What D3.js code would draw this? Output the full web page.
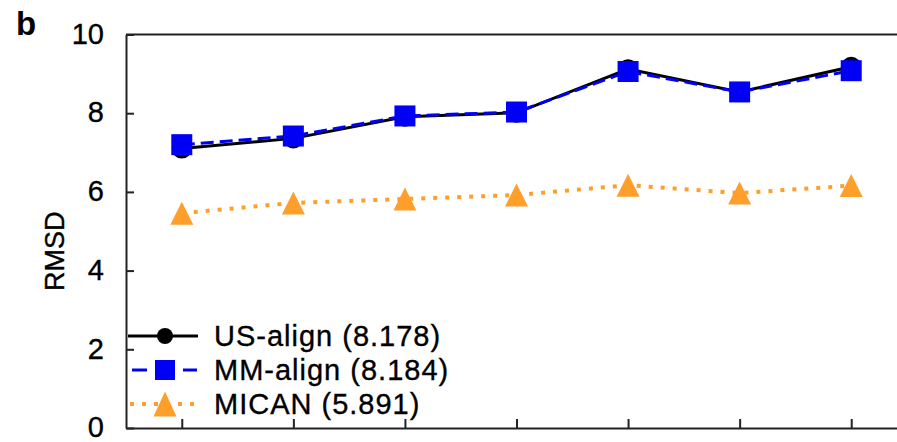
<!DOCTYPE html>
<html>
<head>
<meta charset="utf-8">
<script src="https://cdn.jsdelivr.net/npm/d3@7"></script>
<style>
  html, body { margin: 0; padding: 0; background: #fff; }
  svg { display: block; }
</style>
</head>
<body>
<svg id="chart" width="897" height="442"></svg>
<script>
// ---- data ----
const categories = ["1", "2", "3", "4", "5", "6", "7"];
const usAlign   = [7.10, 7.36, 7.91, 8.01, 9.12, 8.54, 9.18];
const mmAlign   = [7.20, 7.42, 7.93, 8.03, 9.06, 8.54, 9.08];
const mican     = [5.46, 5.72, 5.82, 5.92, 6.17, 5.97, 6.16];
const seriesNames = ["US-align (8.178)", "MM-align (8.184)", "MICAN (5.891)"];
const yTicks = [0, 2, 4, 6, 8, 10];
const panelLabel = "b";
const yLabel = "RMSD";

(function () {
// ---- layout ----
const pLeft = 126, pRight = 907, pTop = 34.5, pBottom = 428;
const font = "'Liberation Sans', Arial, Helvetica, sans-serif";

const svg = d3.select("#chart");

const x = d3.scalePoint().domain(categories).range([pLeft, pRight]).padding(0.5);
const y = d3.scaleLinear().domain([0, 10]).range([pBottom, pTop]);

// frame top line
svg.append("line")
  .attr("x1", pLeft).attr("x2", pRight)
  .attr("y1", pTop).attr("y2", pTop)
  .attr("stroke", "#222").attr("stroke-width", 2);

// y axis
const yAxis = svg.append("g")
  .attr("transform", `translate(${pLeft},0)`)
  .call(d3.axisLeft(y).tickValues(yTicks).tickSizeInner(-8).tickSizeOuter(0).tickPadding(22));
yAxis.select(".domain").attr("stroke", "#222").attr("stroke-width", 2);
yAxis.selectAll(".tick line").attr("stroke", "#222").attr("stroke-width", 2);
yAxis.selectAll(".tick text")
  .attr("font-family", font).attr("font-size", 29).attr("fill", "#000")
  .attr("stroke", "#000").attr("stroke-width", 0.35)
  .attr("dy", "0.3em");

// x axis
const xAxis = svg.append("g")
  .attr("transform", `translate(0,${pBottom})`)
  .call(d3.axisBottom(x).tickSizeInner(-9).tickSizeOuter(0).tickFormat(""));
xAxis.select(".domain").attr("stroke", "#222").attr("stroke-width", 2);
xAxis.selectAll(".tick line").attr("stroke", "#222").attr("stroke-width", 2);

// panel label
svg.append("text")
  .attr("x", 16).attr("y", 35)
  .attr("font-family", font).attr("font-weight", "bold").attr("font-size", 33)
  .attr("fill", "#000")
  .text(panelLabel);

// y label
svg.append("text")
  .attr("transform", `translate(64,${(pTop + pBottom) / 2 + 20}) rotate(-90)`)
  .attr("text-anchor", "middle")
  .attr("font-family", font).attr("font-size", 27).attr("fill", "#000")
  .attr("stroke", "#000").attr("stroke-width", 0.35)
  .text(yLabel);

const line = d3.line().x((d, i) => x(categories[i])).y(d => y(d));

const orange = "#fe9f2c";
const blue = "#0000f5";

// US-align
svg.append("path").datum(usAlign)
  .attr("d", line).attr("fill", "none")
  .attr("stroke", "#000").attr("stroke-width", 3);
svg.selectAll(".us").data(usAlign).enter().append("circle")
  .attr("cx", (d, i) => x(categories[i])).attr("cy", d => y(d))
  .attr("r", 10).attr("fill", "#000");

// MM-align
svg.append("path").datum(mmAlign)
  .attr("d", line).attr("fill", "none")
  .attr("stroke", blue).attr("stroke-width", 3)
  .attr("stroke-dasharray", "13,6");
const sq = 21;
svg.selectAll(".mm").data(mmAlign).enter().append("rect")
  .attr("x", (d, i) => x(categories[i]) - sq / 2).attr("y", d => y(d) - sq / 2)
  .attr("width", sq).attr("height", sq).attr("fill", blue);

// MICAN
svg.append("path").datum(mican)
  .attr("d", line).attr("fill", "none")
  .attr("stroke", orange).attr("stroke-width", 4)
  .attr("stroke-dasharray", "4,8");
function tri(cx, cy, w, h) {
  return `M${cx},${cy - h / 2}L${cx + w / 2},${cy + h / 2}L${cx - w / 2},${cy + h / 2}Z`;
}
svg.selectAll(".mi").data(mican).enter().append("path")
  .attr("d", (d, i) => tri(x(categories[i]), y(d), 23, 23))
  .attr("fill", orange);

// legend
const lg = svg.append("g");
const rows = [336, 370, 404];
const lx0 = 128, lx1 = 198, lcx = 165;
// US
lg.append("line").attr("x1", lx0).attr("x2", lx1).attr("y1", rows[0]).attr("y2", rows[0])
  .attr("stroke", "#000").attr("stroke-width", 3);
lg.append("circle").attr("cx", lcx).attr("cy", rows[0]).attr("r", 8).attr("fill", "#000");
// MM
[[132, 147], [183, 197]].forEach(s => {
  lg.append("line").attr("x1", s[0]).attr("x2", s[1]).attr("y1", rows[1]).attr("y2", rows[1])
    .attr("stroke", blue).attr("stroke-width", 3);
});
lg.append("rect").attr("x", lcx - 10).attr("y", rows[1] - 10).attr("width", 20).attr("height", 20).attr("fill", blue);
// MICAN
lg.append("line").attr("x1", 130).attr("x2", 198).attr("y1", rows[2]).attr("y2", rows[2])
  .attr("stroke", orange).attr("stroke-width", 4).attr("stroke-dasharray", "4,8");
lg.append("path").attr("d", tri(lcx, rows[2], 23, 25)).attr("fill", orange);

lg.selectAll(".lt").data(seriesNames).enter().append("text")
  .attr("x", 214).attr("y", (d, i) => rows[i] + 10)
  .attr("font-family", font).attr("font-size", 29).attr("letter-spacing", "1px")
  .attr("fill", "#000").attr("stroke", "#000").attr("stroke-width", 0.35)
  .text(d => d);
})();
</script>
</body>
</html>
